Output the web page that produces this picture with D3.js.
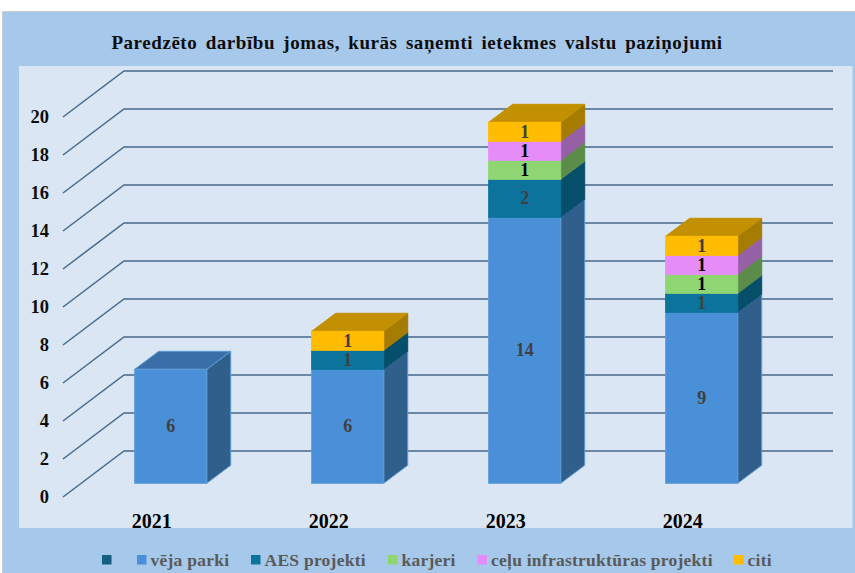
<!DOCTYPE html>
<html>
<head>
<meta charset="utf-8">
<script src="https://cdn.jsdelivr.net/npm/d3@7"></script>
<style>
    html, body { margin: 0; padding: 0; background: #fff; overflow: hidden; }
    text { font-family: "Liberation Serif", serif; font-weight: bold; }
</style>
</head>
<body>
<div id="chart-container"></div>
<script>
let chartTitle = "Paredzēto darbību jomas, kurās saņemti ietekmes valstu paziņojumi";
let years = ["2021", "2022", "2023", "2024"];
let seriesNames = ["vēja parki", "AES projekti", "karjeri", "ceļu infrastruktūras projekti", "citi"];
let vejaParki = [6, 6, 14, 9];
let aesProjekti = [0, 1, 2, 1];
let karjeri = [0, 0, 1, 1];
let celuInfra = [0, 0, 1, 1];
let citi = [0, 1, 1, 1];
let yTicks = [0, 2, 4, 6, 8, 10, 12, 14, 16, 18, 20];

let frontColors = ["#4a90d9", "#0b739c", "#8fd672", "#e58cf9", "#ffbc00"];
let sideColors = ["#315f8b", "#064f6b", "#5b8c4a", "#9660a6", "#a67c00"];
let topColors = ["#3a6ea8", "#08587a", "#6ea458", "#b06cc0", "#c29000"];
let labelColors = ["#404040", "#404040", "#000", "#000", "#404040"];

let width = 855, height = 573;
let divId = "chart-container";

let svg = d3.select("#" + divId)
    .append("svg")
    .attr("width", width)
    .attr("height", height)
    .style("display", "block");

// background panels
svg.append("rect")
    .attr("x", 2.5).attr("y", 11.5)
    .attr("width", width).attr("height", height)
    .style("fill", "#a6c8ea")
    .style("stroke", "#c8ccd0");
svg.append("rect")
    .attr("x", 19).attr("y", 66)
    .attr("width", 833.5).attr("height", 462)
    .style("fill", "#dbe6f4");

svg.append("text")
    .attr("x", 417)
    .attr("y", 49)
    .style("text-anchor", "middle")
    .style("font-size", "19px")
    .style("letter-spacing", "0.56px")
    .style("word-spacing", "3px")
    .style("fill", "#0d0d0d")
    .text(chartTitle);

// scales: y is the plane the bars stand on, walls are offset from it
let y = d3.scaleLinear().domain([0, 20]).range([483.3, 103.3]);
let x = d3.scaleBand().domain(years).range([134.7, 737.7]).paddingInner(0.593);
let frontDy = 13.7, backDy = -32.3;
let wallLeft = 63, wallBack = 124, wallRight = 833;
let barDx = 24, barDy = 18;

// gridlines
let grid = svg.append("g")
    .style("fill", "none")
    .style("stroke", "#46698c")
    .style("stroke-width", "1.5");
yTicks.forEach(t => {
    let path = d3.path();
    path.moveTo(wallLeft, y(t) + frontDy);
    path.lineTo(wallBack, y(t) + backDy);
    path.lineTo(wallRight, y(t) + backDy);
    grid.append("path").attr("d", path.toString());
});

// y axis
let yAxis = d3.axisLeft(y).tickValues(yTicks).tickSize(0).tickPadding(0);
let yAxisG = svg.append("g")
    .attr("transform", "translate(49," + frontDy + ")")
    .call(yAxis);
yAxisG.select(".domain").remove();
yAxisG.selectAll("text")
    .style("font-size", "18.5px")
    .style("fill", "#0d0d0d");

// x axis, labels sit left of the bars
let xAxis = d3.axisBottom(x).tickSize(0).tickPadding(0);
let xAxisG = svg.append("g")
    .attr("transform", "translate(-19,514)")
    .call(xAxis);
xAxisG.select(".domain").remove();
xAxisG.selectAll("text")
    .style("font-size", "20px")
    .style("fill", "#000");

// stacked bars
let rows = years.map((year, i) => ({
    year: year,
    s0: vejaParki[i], s1: aesProjekti[i], s2: karjeri[i], s3: celuInfra[i], s4: citi[i]
}));
let stack = d3.stack().keys(["s0", "s1", "s2", "s3", "s4"]);
let layers = stack(rows);
let totals = rows.map(r => r.s0 + r.s1 + r.s2 + r.s3 + r.s4);

function poly(points) {
    return points.map(p => p.join(",")).join(" ");
}

layers.forEach((layer, s) => {
    let g = svg.append("g");
    layer.forEach(d => {
        if (d[1] === d[0]) return;
        let x0 = x(d.data.year), x1 = x0 + x.bandwidth();
        let y0 = y(d[0]), y1 = y(d[1]);
        let edge = s === 0 ? "#5b9bd5" : frontColors[s];
        g.append("polygon")
            .attr("points", poly([[x1, y0], [x1 + barDx, y0 - barDy], [x1 + barDx, y1 - barDy], [x1, y1]]))
            .style("fill", sideColors[s])
            .style("stroke", edge === frontColors[s] ? sideColors[s] : edge)
            .style("stroke-width", "1");
        if (d[1] === totals[years.indexOf(d.data.year)]) {
            g.append("polygon")
                .attr("points", poly([[x0, y1], [x0 + barDx, y1 - barDy], [x1 + barDx, y1 - barDy], [x1, y1]]))
                .style("fill", topColors[s])
                .style("stroke", s === 0 ? edge : topColors[s])
                .style("stroke-width", "1");
        }
        g.append("rect")
            .attr("x", x0)
            .attr("y", y1)
            .attr("width", x.bandwidth())
            .attr("height", y0 - y1)
            .style("fill", frontColors[s])
            .style("stroke", edge)
            .style("stroke-width", "1");
    });
});

// value labels on top of all bars
layers.forEach((layer, s) => {
    layer.forEach(d => {
        if (d[1] === d[0]) return;
        svg.append("text")
            .attr("x", x(d.data.year) + x.bandwidth() / 2)
            .attr("y", (y(d[0]) + y(d[1])) / 2)
            .attr("dy", "0.34em")
            .style("text-anchor", "middle")
            .style("font-size", "18px")
            .style("fill", labelColors[s])
            .text(d[1] - d[0]);
    });
});

// legend
let legendItems = [
    {name: "", color: "#156082", x: 102},
    {name: seriesNames[0], color: frontColors[0], x: 137},
    {name: seriesNames[1], color: frontColors[1], x: 251},
    {name: seriesNames[2], color: frontColors[2], x: 388},
    {name: seriesNames[3], color: frontColors[3], x: 477.5},
    {name: seriesNames[4], color: frontColors[4], x: 734}
];
let legend = svg.selectAll("g.legend")
    .data(legendItems)
    .enter()
    .append("g")
    .attr("class", "legend")
    .attr("transform", d => "translate(" + d.x + ",555)");
legend.append("rect")
    .attr("width", 9.5)
    .attr("height", 9.5)
    .style("fill", d => d.color);
legend.append("text")
    .attr("x", 13.5)
    .attr("y", 10.5)
    .style("font-size", "17.5px")
    .style("letter-spacing", "0.25px")
    .style("fill", "#595959")
    .text(d => d.name);
</script>
</body>
</html>
